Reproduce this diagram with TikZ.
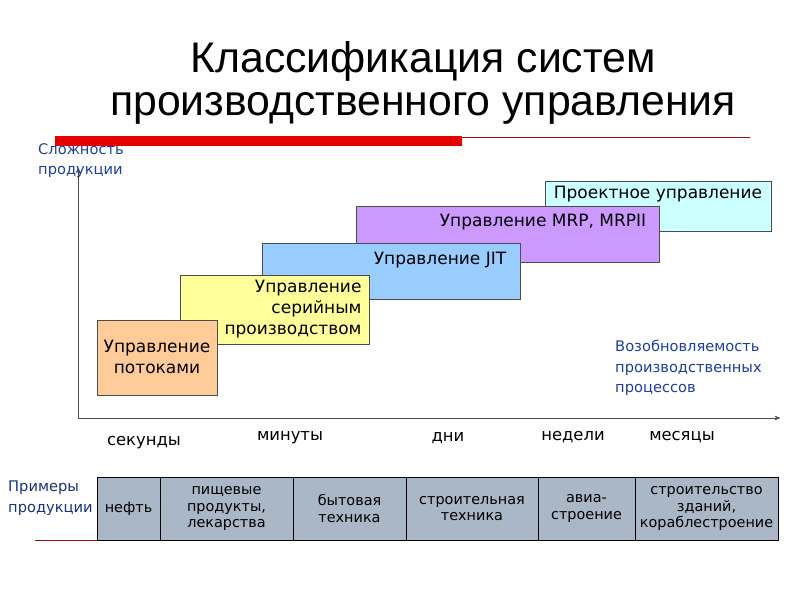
\documentclass[tikz,border=0pt]{standalone}
\usepackage{fontspec}
\setmainfont{DejaVu Sans}
\newfontfamily\titlefont{Liberation Sans}
\usetikzlibrary{arrows}
\definecolor{peach}{HTML}{FFCC99}
\definecolor{lyellow}{HTML}{FFFF99}
\definecolor{lblue}{HTML}{99CCFF}
\definecolor{lviolet}{HTML}{CC99FF}
\definecolor{lcyan}{HTML}{CCFFFF}
\definecolor{grayblue}{HTML}{A9B7C6}
\definecolor{lbltext}{HTML}{1F3F9F}
\definecolor{dred}{HTML}{A01010}
\tikzset{
	level/.style={draw=black!70,line width=0.6pt},
	lvltext/.style={font=\fontsize{14.5}{18}\selectfont},
	sample/.style={draw=black,line width=0.8pt,fill=grayblue,align=center,font=\fontsize{12.3}{14}\selectfont},
	axlabel/.style={text=lbltext,align=left,font=\fontsize{12.5}{17.5}\selectfont,anchor=north west,inner sep=0pt},
	tick/.style={font=\fontsize{14}{16}\selectfont}
}
\begin{document}
\begin{tikzpicture}[x=0.03cm,y=-0.03cm]
		\useasboundingbox[fill=white] (0,0) rectangle (800,600);
		%title
		\node (title) at (423,83) [align=center,font=\titlefont\fontsize{36.5}{37}\selectfont] {Классификация систем\\производственного управления};
		\draw[dred,line width=0.5pt] (55,137) -- (750,137);
		\fill[red!90!black] (55,136) rectangle (462,146);
		%axes
		\coordinate (o) at (78,418);
		\coordinate (ytop) at (78,168);
		\coordinate (xend) at (780,418);
		\draw[->,>=stealth',line width=0.6pt,black!70] (o) -- (ytop);
		\draw[->,>=stealth',line width=0.6pt,black!70] (o) -- (xend);
		\node (ylab) at (38,143) [axlabel] {Сложность\\продукции};
		\node (xlab) at (615,340) [axlabel] {Возобновляемость\\производственных\\процессов};
		%levels
		\draw[level,fill=lcyan] (545,181) rectangle (771,231);
		\node (proj) at (658,194) [lvltext] {Проектное управление};
		\draw[level,fill=lviolet] (356,206) rectangle (659,262);
		\node (mrp) at (543,222) [lvltext] {Управление MRP, MRPII};
		\draw[level,fill=lblue] (262,243) rectangle (520,299);
		\node (jit) at (440,260) [lvltext] {Управление JIT};
		\draw[level,fill=lyellow] (180,275) rectangle (369,344);
		\node (ser) at (293,309) [lvltext,align=right] {Управление\\серийным\\производством};
		\draw[level,fill=peach] (97,320) rectangle (217,395);
		\node (flow) at (157,357) [lvltext,align=center] {Управление\\потоками};
		%time scale
		\node (sec) at (144,443) [tick] {секунды};
		\node (min) at (290,438) [tick] {минуты};
		\node (day) at (448,438) [tick] {дни};
		\node (week) at (573,437) [tick] {недели};
		\node (month) at (682,437) [tick] {месяцы};
		%examples
		\node (exlab) at (8,481) [axlabel,text=lbltext!80!black,font=\fontsize{12.5}{18}\selectfont] {Примеры\\продукции};
		\draw[dred,line width=0.5pt] (35,540) -- (97,540);
		\node (e1) [sample,minimum width=63*0.03cm,minimum height=63*0.03cm] at (128.5,508.5) {нефть};
		\node (e2) [sample,minimum width=133*0.03cm,minimum height=63*0.03cm] at (226.5,508.5) {пищевые\\продукты,\\лекарства};
		\node (e3) [sample,minimum width=113*0.03cm,minimum height=63*0.03cm] at (349.5,508.5) {бытовая\\техника};
		\node (e4) [sample,minimum width=132*0.03cm,minimum height=63*0.03cm] at (472,508.5) {строительная\\техника};
		\node (e5) [sample,minimum width=97*0.03cm,minimum height=63*0.03cm] at (586.5,508.5) {авиа-\\строение};
		\node (e6) [sample,minimum width=143*0.03cm,minimum height=63*0.03cm] at (706.5,508.5) {строительство\\зданий,\\кораблестроение};
\end{tikzpicture}
\end{document}
